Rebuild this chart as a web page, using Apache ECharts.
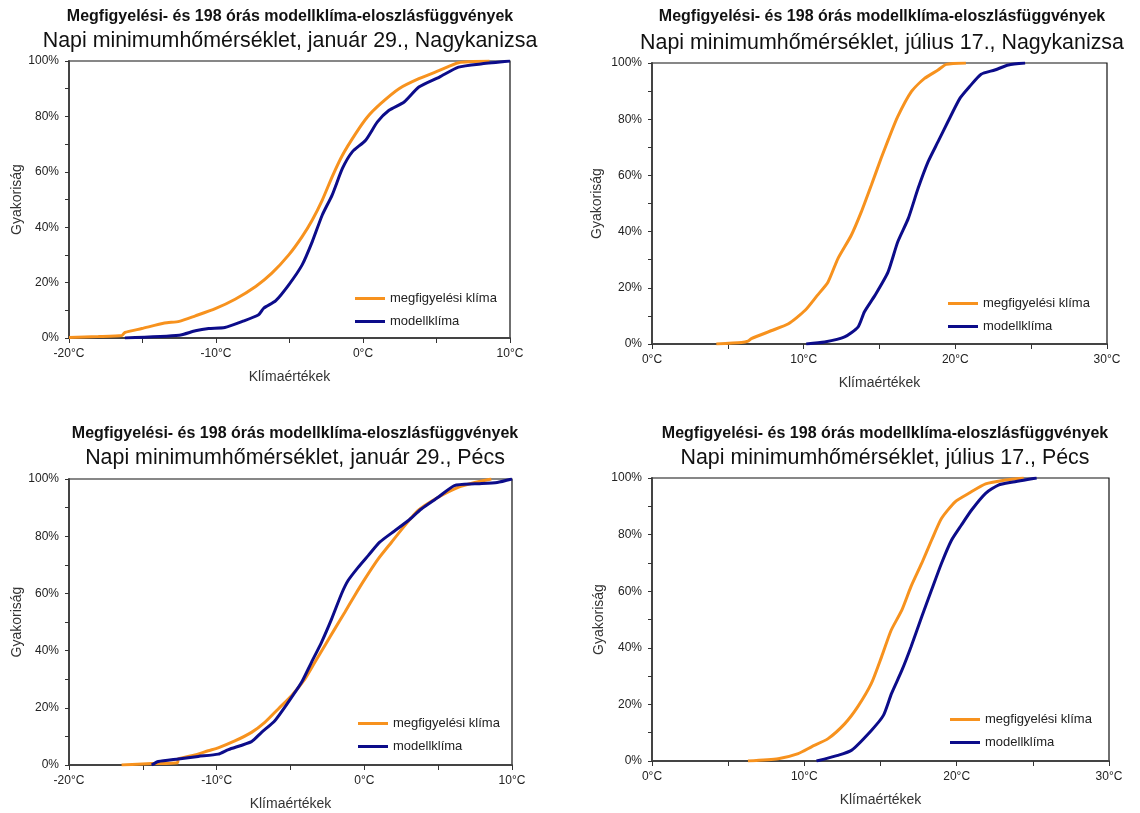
<!DOCTYPE html>
<html>
<head>
<meta charset="utf-8">
<title>Eloszlásfüggvények</title>
<script src="https://cdn.jsdelivr.net/npm/echarts@6/dist/echarts.min.js"></script>
<style>
html,body{margin:0;padding:0;background:#fff;}
#chart-panel{width:1140px;height:813px;}
</style>
</head>
<body>
<div id="chart-panel"></div>
<script>
// feliratok
var mainTitle = 'Megfigyelési- és 198 órás modellklíma-eloszlásfüggvények';
var subTitles = [
    'Napi minimumhőmérséklet, január 29., Nagykanizsa',
    'Napi minimumhőmérséklet, július 17., Nagykanizsa',
    'Napi minimumhőmérséklet, január 29., Pécs',
    'Napi minimumhőmérséklet, július 17., Pécs'
];
var seriesNames = ['megfigyelési klíma', 'modellklíma'];
var xName = 'Klímaértékek';
var yName = 'Gyakoriság';
var janRange = [-20, 10];
var julRange = [0, 30];

// Nagykanizsa, január 29. (°C, %)
var nkJanObsT = [-20, -18, -16.4, -16.2, -15.05, -13.5, -12.5, -11.4, -10.05, -8.7, -7.3, -6.2, -5.05, -4.14, -3.45, -2.77, -2.1, -1.4, -0.5, 0.3, 1.2, 2.45, 3.8, 5.2, 6.5, 8.6];
var nkJanObsP = [0.2, 0.5, 0.9, 2, 3.4, 5.4, 6, 8, 10.6, 14, 18.6, 23.4, 30, 36.6, 42.6, 49.8, 58.2, 66, 73.8, 79.8, 84.6, 90, 93.6, 96.6, 99.4, 100];
var nkJanModT = [-16.2, -12.5, -11.4, -10.5, -9.4, -8.2, -7.1, -6.75, -5.95, -5.05, -4.14, -3.45, -2.77, -2.1, -1.4, -0.73, 0.18, 0.98, 1.77, 2.8, 3.8, 5.2, 6.5, 8.1, 10];
var nkJanModP = [0, 1, 2.6, 3.4, 3.8, 6, 8.4, 10.8, 13.4, 19.2, 26.4, 34.8, 44.4, 51.6, 61.2, 67.2, 71.4, 78, 82.2, 85.2, 90.6, 94.2, 97.8, 99, 100];

// Nagykanizsa, július 17.
var nkJulObsT = [4.24, 5.9, 6.33, 6.55, 7.9, 9.0, 10.1, 10.9, 11.6, 12.26, 13.14, 13.8, 14.46, 15.1, 15.6, 16.2, 17.1, 17.97, 18.86, 19.4, 20.7];
var nkJulObsP = [0, 0.5, 1, 1.9, 4.8, 7.2, 12, 17.3, 22, 30.4, 38.7, 47, 56.5, 66, 73, 80.9, 89.8, 94.5, 97.5, 99.5, 100];
var nkJulModT = [10.17, 11.38, 12.7, 13.58, 14.0, 14.7, 15.56, 16.2, 16.9, 17.54, 18.2, 18.86, 19.5, 20.3, 20.94, 21.7, 22.6, 23.5, 24.6];
var nkJulModP = [0, 0.7, 2.5, 6, 11.4, 17.3, 25.6, 36.3, 44.7, 55.3, 64.8, 72, 79, 87.4, 91.6, 96, 97.5, 99.3, 100];

// Pécs, január 29.
var pcJanObsT = [-16.44, -14.4, -12.65, -12.6, -11.47, -10.57, -9.9, -8.77, -7.64, -6.74, -5.83, -4.93, -4.03, -3.35, -2.68, -2.0, -1.32, -0.65, 0.03, 0.93, 1.84, 2.74, 3.64, 5.0, 6.35, 7.48, 8.6];
var pcJanObsP = [0, 0.5, 0.8, 2.1, 3.5, 5, 6, 8.4, 11.4, 14.9, 19.6, 24.2, 30, 35.9, 41.7, 47.6, 53.4, 59.3, 65, 72, 77.9, 83.7, 89, 93.6, 97.1, 98.8, 100];
var pcJanModT = [-14.4, -13.95, -12.6, -11.25, -9.9, -9.2, -7.64, -6.96, -6.06, -5.16, -4.25, -3.58, -2.9, -2.22, -1.55, -1.1, -0.42, 0.26, 1.04, 2.06, 2.96, 3.86, 5.0, 6.1, 7.48, 9.0, 10];
var pcJanModP = [0, 1.2, 2.1, 3, 3.8, 5.4, 8.2, 11.4, 15.5, 21.9, 28.9, 35.9, 42.9, 51, 59.8, 64.5, 69.1, 73.2, 77.9, 81.9, 85.4, 89.5, 93.6, 97.7, 98.3, 98.8, 100];

// Pécs, július 17.
var pcJulObsT = [6.3, 8.28, 9.6, 10.47, 11.56, 12.66, 13.5, 14.4, 15.07, 15.7, 16.4, 17.0, 17.7, 18.35, 19.0, 19.9, 20.8, 21.9, 23.2, 24.4];
var pcJulObsP = [0, 0.8, 2.6, 5, 7.9, 13.2, 19.1, 27.4, 36.8, 46.2, 53.3, 61.6, 69.8, 78, 85.7, 91.6, 94.6, 97.9, 99.3, 100];
var pcJulModT = [10.8, 12.2, 13.1, 14.4, 15.2, 15.72, 16.4, 17.0, 17.7, 18.35, 19.0, 19.66, 20.3, 20.98, 21.9, 22.74, 23.6, 25.25];
var pcJulModP = [0, 2, 3.8, 10.8, 16.2, 23.8, 32, 40.3, 50.9, 60.4, 69.8, 78, 83.3, 88.7, 94.6, 97.5, 98.5, 100];

var colorObs = '#F7921E';
var colorMod = '#0C0C8A';
var fontFam = '"Liberation Sans", Arial, sans-serif';

function zip(t, p) {
    var out = [];
    for (var i = 0; i < t.length; i++) out.push([t[i], p[i]]);
    return out;
}

// panelek elhelyezése (px)
var panels = [
    {grid: {left: 69, top: 61, width: 441, height: 277}, cx: 290, tTop: 9, sTop: 31, range: janRange, obs: zip(nkJanObsT, nkJanObsP), mod: zip(nkJanModT, nkJanModP), legend: {left: 355, top: 292}, yGap: 45},
    {grid: {left: 652, top: 63, width: 455, height: 281}, cx: 882, tTop: 9, sTop: 33, range: julRange, obs: zip(nkJulObsT, nkJulObsP), mod: zip(nkJulModT, nkJulModP), legend: {left: 948, top: 297}, yGap: 48},
    {grid: {left: 69, top: 479, width: 443, height: 286}, cx: 295, tTop: 426, sTop: 448, range: janRange, obs: zip(pcJanObsT, pcJanObsP), mod: zip(pcJanModT, pcJanModP), legend: {left: 358, top: 717}, yGap: 45},
    {grid: {left: 652, top: 478, width: 457, height: 283}, cx: 885, tTop: 426, sTop: 448, range: julRange, obs: zip(pcJulObsT, pcJulObsP), mod: zip(pcJulModT, pcJulModP), legend: {left: 950, top: 713}, yGap: 46}
];

var option = {
    backgroundColor: '#fff',
    animation: false,
    title: [], grid: [], xAxis: [], yAxis: [], legend: [], series: []
};

panels.forEach(function (p, i) {
    option.title.push({
        text: mainTitle, left: p.cx, top: p.tTop, textAlign: 'center', padding: 0,
        textStyle: {fontFamily: fontFam, fontSize: 16, fontWeight: 'bold', color: '#111'}
    });
    option.title.push({
        text: subTitles[i], left: p.cx, top: p.sTop, textAlign: 'center', padding: 0,
        textStyle: {fontFamily: fontFam, fontSize: 21.4, fontWeight: 'normal', color: '#111'}
    });
    option.grid.push({
        left: p.grid.left, top: p.grid.top, width: p.grid.width, height: p.grid.height,
        show: true, borderColor: '#111', borderWidth: 1.2, backgroundColor: '#fff'
    });
    option.xAxis.push({
        type: 'value', gridIndex: i, min: p.range[0], max: p.range[1], interval: 10,
        name: xName, nameLocation: 'middle', nameGap: 32,
        nameTextStyle: {fontFamily: fontFam, fontSize: 14, color: '#333'},
        axisLine: {show: true, onZero: false, lineStyle: {color: '#444', width: 2}},
        axisTick: {show: true, length: 5, lineStyle: {color: '#333', width: 1}},
        minorTick: {show: true, splitNumber: 2, length: 5, lineStyle: {color: '#333', width: 1}},
        splitLine: {show: false},
        axisLabel: {fontFamily: fontFam, fontSize: 12, color: '#222', margin: 10, formatter: '{value}°C'}
    });
    option.yAxis.push({
        type: 'value', gridIndex: i, min: 0, max: 100, interval: 20,
        name: yName, nameLocation: 'middle', nameGap: p.yGap,
        nameTextStyle: {fontFamily: fontFam, fontSize: 14, color: '#333'},
        axisLine: {show: true, onZero: false, lineStyle: {color: '#444', width: 2}},
        axisTick: {show: true, length: 4, lineStyle: {color: '#333', width: 1}},
        minorTick: {show: true, splitNumber: 2, length: 4, lineStyle: {color: '#333', width: 1}},
        splitLine: {show: false},
        axisLabel: {fontFamily: fontFam, fontSize: 12, color: '#222', margin: 10, formatter: '{value}%'}
    });
    option.legend.push({
        data: seriesNames, orient: 'vertical', left: p.legend.left, top: p.legend.top,
        icon: 'rect', itemWidth: 30, itemHeight: 3, itemGap: 10, padding: 0,
        selectedMode: false,
        textStyle: {fontFamily: fontFam, fontSize: 13, color: '#222'}
    });
    // a görbék enyhe simítással
    option.series.push({
        name: seriesNames[0], type: 'line', xAxisIndex: i, yAxisIndex: i,
        data: p.obs, showSymbol: false, symbol: 'none', smooth: 0.2,
        lineStyle: {color: colorObs, width: 3}, itemStyle: {color: colorObs}
    });
    option.series.push({
        name: seriesNames[1], type: 'line', xAxisIndex: i, yAxisIndex: i,
        data: p.mod, showSymbol: false, symbol: 'none', smooth: 0.2,
        lineStyle: {color: colorMod, width: 3}, itemStyle: {color: colorMod}
    });
});

var chart = echarts.init(document.getElementById('chart-panel'));
chart.setOption(option);
</script>
</body>
</html>
